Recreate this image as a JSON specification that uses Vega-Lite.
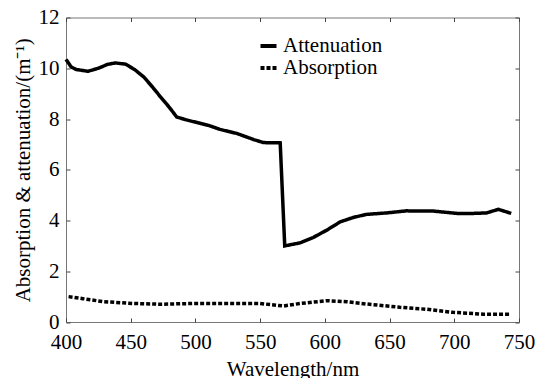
{
  "$schema": "https://vega.github.io/schema/vega-lite/v6.json",
  "width": 453,
  "height": 304.5,
  "autosize": "none",
  "padding": {"left": 66, "top": 17.5, "right": 18, "bottom": 56},
  "background": "white",
  "config": {
    "view": {"stroke": "#777", "strokeWidth": 1},
    "font": "Liberation Serif",
    "axis": {
      "grid": false,
      "domain": false,
      "labelFlush": false,
      "tickColor": "#444",
      "tickSize": -4,
      "labelFont": "Liberation Serif",
      "labelFontSize": 21,
      "labelColor": "black",
      "titleFont": "Liberation Serif",
      "titleFontSize": 21,
      "titleFontWeight": "normal",
      "titleColor": "black"
    },
    "legend": {
      "labelFont": "Liberation Serif",
      "labelFontSize": 21,
      "labelColor": "black"
    }
  },
  "data": {
    "values": [
      {"wl": 400, "v": 10.35, "s": "Attenuation"},
      {"wl": 404, "v": 10.05, "s": "Attenuation"},
      {"wl": 408, "v": 9.95, "s": "Attenuation"},
      {"wl": 417, "v": 9.88, "s": "Attenuation"},
      {"wl": 425, "v": 10.0, "s": "Attenuation"},
      {"wl": 432, "v": 10.15, "s": "Attenuation"},
      {"wl": 438, "v": 10.21, "s": "Attenuation"},
      {"wl": 446, "v": 10.16, "s": "Attenuation"},
      {"wl": 453, "v": 9.95, "s": "Attenuation"},
      {"wl": 460, "v": 9.66, "s": "Attenuation"},
      {"wl": 467, "v": 9.25, "s": "Attenuation"},
      {"wl": 473, "v": 8.87, "s": "Attenuation"},
      {"wl": 480, "v": 8.45, "s": "Attenuation"},
      {"wl": 485.5, "v": 8.08, "s": "Attenuation"},
      {"wl": 492, "v": 7.98, "s": "Attenuation"},
      {"wl": 502, "v": 7.85, "s": "Attenuation"},
      {"wl": 510, "v": 7.75, "s": "Attenuation"},
      {"wl": 519, "v": 7.59, "s": "Attenuation"},
      {"wl": 532, "v": 7.43, "s": "Attenuation"},
      {"wl": 545, "v": 7.19, "s": "Attenuation"},
      {"wl": 552.5, "v": 7.07, "s": "Attenuation"},
      {"wl": 565.5, "v": 7.06, "s": "Attenuation"},
      {"wl": 569, "v": 3.0, "s": "Attenuation"},
      {"wl": 581, "v": 3.12, "s": "Attenuation"},
      {"wl": 591, "v": 3.33, "s": "Attenuation"},
      {"wl": 601.5, "v": 3.62, "s": "Attenuation"},
      {"wl": 612, "v": 3.95, "s": "Attenuation"},
      {"wl": 622, "v": 4.12, "s": "Attenuation"},
      {"wl": 632, "v": 4.24, "s": "Attenuation"},
      {"wl": 648, "v": 4.30, "s": "Attenuation"},
      {"wl": 663, "v": 4.38, "s": "Attenuation"},
      {"wl": 684, "v": 4.37, "s": "Attenuation"},
      {"wl": 702, "v": 4.28, "s": "Attenuation"},
      {"wl": 715, "v": 4.28, "s": "Attenuation"},
      {"wl": 725, "v": 4.30, "s": "Attenuation"},
      {"wl": 734, "v": 4.44, "s": "Attenuation"},
      {"wl": 744, "v": 4.28, "s": "Attenuation"},
      {"wl": 402, "v": 1.0, "s": "Absorption"},
      {"wl": 413, "v": 0.92, "s": "Absorption"},
      {"wl": 429, "v": 0.80, "s": "Absorption"},
      {"wl": 452, "v": 0.73, "s": "Absorption"},
      {"wl": 473, "v": 0.70, "s": "Absorption"},
      {"wl": 498, "v": 0.73, "s": "Absorption"},
      {"wl": 529, "v": 0.73, "s": "Absorption"},
      {"wl": 550, "v": 0.73, "s": "Absorption"},
      {"wl": 568, "v": 0.63, "s": "Absorption"},
      {"wl": 581, "v": 0.73, "s": "Absorption"},
      {"wl": 601.5, "v": 0.84, "s": "Absorption"},
      {"wl": 617, "v": 0.80, "s": "Absorption"},
      {"wl": 632, "v": 0.71, "s": "Absorption"},
      {"wl": 658, "v": 0.58, "s": "Absorption"},
      {"wl": 679, "v": 0.50, "s": "Absorption"},
      {"wl": 699, "v": 0.38, "s": "Absorption"},
      {"wl": 722.5, "v": 0.31, "s": "Absorption"},
      {"wl": 743, "v": 0.31, "s": "Absorption"}
    ]
  },
  "layer": [
    {
      "mark": {"type": "line", "strokeWidth": 3.5, "color": "black", "strokeCap": "butt"},
      "encoding": {
        "x": {
          "field": "wl", "type": "quantitative",
          "scale": {"domain": [400, 750], "nice": false, "zero": false},
          "axis": {"orient": "bottom", "values": [400, 450, 500, 550, 600, 650, 700, 750], "title": "Wavelength/nm", "labelPadding": 13, "titlePadding": 6}
        },
        "y": {
          "field": "v", "type": "quantitative",
          "scale": {"domain": [0, 12], "nice": false, "zero": false},
          "axis": {"orient": "left", "values": [0, 2, 4, 6, 8, 10, 12], "title": "Absorption & attenuation/(m⁻¹)", "labelPadding": 11, "titlePadding": 5}
        },
        "strokeDash": {
          "field": "s", "type": "nominal",
          "scale": {"domain": ["Attenuation", "Absorption"], "range": [[1, 0], [4, 2]]},
          "legend": {
            "title": null,
            "orient": "none",
            "legendX": 192,
            "legendY": 18,
            "symbolType": "stroke",
            "symbolSize": 256,
            "symbolStrokeWidth": 4,
            "symbolStrokeColor": "black",
            "labelOffset": 4,
            "rowPadding": 0
          }
        }
      }
    },
    {
      "mark": {"type": "point", "opacity": 0},
      "encoding": {
        "x": {
          "field": "wl", "type": "quantitative",
          "scale": {"domain": [400, 750], "nice": false, "zero": false},
          "axis": {"orient": "top", "values": [400, 450, 500, 550, 600, 650, 700, 750], "labels": false, "title": null}
        },
        "y": {
          "field": "v", "type": "quantitative",
          "scale": {"domain": [0, 12], "nice": false, "zero": false},
          "axis": {"orient": "right", "values": [0, 2, 4, 6, 8, 10, 12], "labels": false, "title": null}
        }
      }
    }
  ],
  "resolve": {"axis": {"x": "independent", "y": "independent"}}
}
